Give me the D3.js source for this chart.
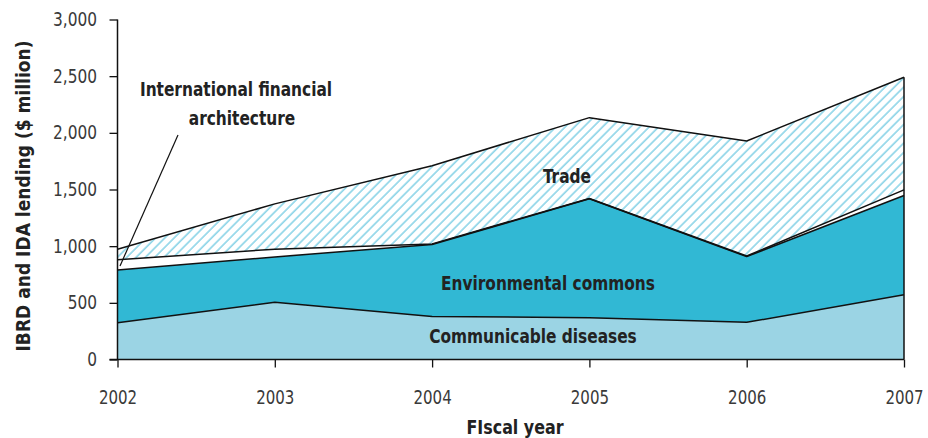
<!DOCTYPE html>
<html><head><meta charset="utf-8">
<script src="https://cdn.jsdelivr.net/npm/d3@7"></script>
<style>
html,body{margin:0;padding:0;background:#fff;}
svg{display:block;}
text{font-family:"DejaVu Sans Condensed","Liberation Sans Narrow",sans-serif;}
</style></head>
<body>
<svg id="chart" width="928" height="438"></svg>
<script>
const years = [2002, 2003, 2004, 2005, 2006, 2007];
const communicable = [325, 505, 380, 368, 328, 572];
const environmental = [465, 400, 635, 1050, 580, 875];
const financialArch = [90, 68, 5, 3, 5, 50];
const trade = [92, 400, 690, 713, 1015, 993];
const yTicks = [0, 500, 1000, 1500, 2000, 2500, 3000];
const seriesKeys = ["communicable", "environmental", "financialArch", "trade"];
const seriesLabels = ["Communicable diseases", "Environmental commons", "International financial architecture", "Trade"];

const rows = years.map((y, i) => ({year: y, communicable: communicable[i], environmental: environmental[i], financialArch: financialArch[i], trade: trade[i]}));

const svg = d3.select("#chart");
const x = d3.scaleLinear().domain([2002, 2007]).range([117.5, 904]);
const y = d3.scaleLinear().domain([0, 3000]).range([359.5, 19.5]);

const defs = svg.append("defs");
const sp = 6.6;
const pat = defs.append("pattern").attr("id", "hatch").attr("patternUnits", "userSpaceOnUse")
  .attr("width", sp).attr("height", sp).attr("patternTransform", "rotate(45)");
pat.append("rect").attr("width", sp).attr("height", sp).attr("fill", "#fff");
pat.append("line").attr("x1", 1).attr("y1", 0).attr("x2", 1).attr("y2", sp)
  .attr("stroke", "#22acd0").attr("stroke-width", 0.85);

const stack = d3.stack().keys(seriesKeys)(rows);
const fills = {communicable: "#9bd4e4", environmental: "#31b8d4", financialArch: "#ffffff", trade: "url(#hatch)"};

const area = d3.area().x(d => x(d.data.year)).y0(d => y(d[0])).y1(d => y(d[1]));
const topLine = d3.line().x(d => x(d.data.year)).y(d => y(d[1]));

svg.append("g").selectAll("path").data(stack).join("path")
  .attr("d", area).attr("fill", d => fills[d.key]).attr("stroke", "none");

svg.append("g").selectAll("path").data(stack).join("path")
  .attr("d", topLine).attr("fill", "none").attr("stroke", "#111").attr("stroke-width", 1.5)
  .attr("stroke-linejoin", "round");

// right edge
const last = stack[stack.length - 1];
svg.append("line").attr("x1", x(2007)).attr("x2", x(2007))
  .attr("y1", y(0)).attr("y2", y(last[last.length - 1][1]))
  .attr("stroke", "#111").attr("stroke-width", 1.5);

// axes
const yAxis = d3.axisLeft(y).tickValues(yTicks).tickFormat(d3.format(",")).tickSize(8);
const gy = svg.append("g").attr("transform", `translate(${x(2002)},0)`).call(yAxis);
gy.select(".domain").attr("stroke", "#111").attr("stroke-width", 1.5).attr("d", `M0,${y(0)}V${y(3000)}`);
gy.selectAll(".tick line").attr("stroke", "#111").attr("stroke-width", 1.3);
gy.selectAll(".tick text").attr("font-size", 19).attr("fill", "#3a3a3a").attr("x", 0)
  .attr("transform", "translate(-20.5,0) scale(0.9,1)")
  .attr("font-family", "'DejaVu Sans Condensed',sans-serif");

const xAxis = d3.axisBottom(x).tickValues(years).tickFormat(d3.format("d")).tickSize(8).tickPadding(23);
const gx = svg.append("g").attr("transform", `translate(0,${y(0)})`).call(xAxis);
gx.select(".domain").attr("stroke", "#111").attr("stroke-width", 1.5).attr("d", `M${x(2002) - 8},0H${x(2007)}`);
gx.selectAll(".tick line").attr("stroke", "#111").attr("stroke-width", 1.3);
gx.selectAll(".tick text").attr("font-size", 19).attr("fill", "#3a3a3a")
  .attr("transform", "scale(0.88,1)")
  .attr("font-family", "'DejaVu Sans Condensed',sans-serif");

// titles
svg.append("text").attr("transform", "translate(30,196) rotate(-90)").attr("text-anchor", "middle")
  .attr("font-size", 19).attr("font-weight", "bold").attr("fill", "#222").text("IBRD and IDA lending ($ million)");
svg.append("text").attr("transform", "translate(515,434) scale(0.93,1)").attr("text-anchor", "middle")
  .attr("font-size", 19).attr("font-weight", "bold").attr("fill", "#222").text("FIscal year");

// series labels
const lab = (t, cx, cy) => svg.append("text").attr("transform", `translate(${cx},${cy}) scale(0.9,1)`)
  .attr("text-anchor", "middle")
  .attr("font-size", 19).attr("font-weight", "bold").attr("fill", "#222").text(t);
lab("International financial", 236, 96);
lab("architecture", 242, 125);
lab(seriesLabels[3], 567, 183);
lab(seriesLabels[1], 548, 290);
lab(seriesLabels[0], 533, 343);

svg.append("line").attr("x1", 178).attr("y1", 135).attr("x2", 120).attr("y2", 266)
  .attr("stroke", "#111").attr("stroke-width", 1.2);
</script>
</body></html>
